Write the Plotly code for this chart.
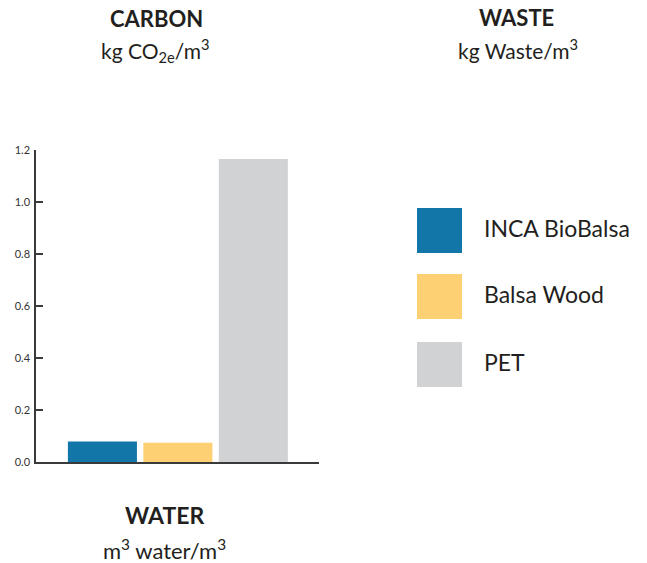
import plotly.graph_objects as go

# ---- data ----
materials = ["INCA BioBalsa", "Balsa Wood", "PET"]
carbon_values = [0.079, 0.074, 1.165]
colors = ["#1276A8", "#FDD073", "#D1D2D4"]
y_ticks = [0.0, 0.2, 0.4, 0.6, 0.8, 1.0, 1.2]
y_ticklabels = ["0.0", "0.2", "0.4", "0.6", "0.8", "1.0", "1.2"]

W, H = 647, 563
L, R, T, B = 36, 319, 150, 462  # plot area in pixels

def px(x):
    return (x - L) / (R - L)

def py(y):
    return (B - y) / (B - T)

FONT = "Lato, 'Open Sans', sans-serif"
TXT = "#231F20"

fig = go.Figure()
fig.add_trace(go.Bar(
    x=list(range(len(materials))),
    y=carbon_values,
    marker=dict(color=colors, line=dict(width=0)),
    width=0.915,
    showlegend=False,
    hoverinfo="skip",
))

fig.update_layout(
    width=W, height=H,
    margin=dict(l=L, r=W - R, t=T, b=H - B, pad=0),
    plot_bgcolor="white", paper_bgcolor="white",
    font=dict(family=FONT, color=TXT),
    xaxis=dict(
        range=[-0.88, 2.87],
        showgrid=False, zeroline=False,
        showline=True, linecolor="#3A3A3A", linewidth=1.5,
        tickmode="array", tickvals=[2.87], ticktext=[""],
        ticks="inside", ticklen=7, tickwidth=1.5, tickcolor="#3A3A3A",
        fixedrange=True,
    ),
    yaxis=dict(
        range=[0, 1.2],
        showgrid=False, zeroline=False,
        showline=True, linecolor="#3A3A3A", linewidth=1.5,
        tickmode="array", tickvals=y_ticks, ticktext=y_ticklabels,
        ticks="inside", ticklen=7, tickwidth=1.5, tickcolor="#3A3A3A",
        tickfont=dict(size=11, color="#333333", family=FONT),
        ticklabelstandoff=2,
        fixedrange=True,
    ),
)

annotations = [
    (156, 19, "<b>CARBON</b>", 22),
    (155, 50, "kg CO<sub>2e</sub>/m<sup>3</sup>", 21),
    (516, 18, "<b>WASTE</b>", 22),
    (518, 49, "kg Waste/m<sup>3</sup>", 21),
    (164, 515, "<b>WATER</b>", 23),
    (164, 549, "m<sup>3</sup> water/m<sup>3</sup>", 22),
]
for x, y, text, size in annotations:
    fig.add_annotation(x=px(x), y=py(y), xref="paper", yref="paper",
                       text=text, showarrow=False,
                       xanchor="center", yanchor="middle",
                       font=dict(size=size, color=TXT, family=FONT))

# custom legend (large swatches)
legend_top = [208, 274, 342]
for name, col, top in zip(materials, colors, legend_top):
    fig.add_shape(type="rect", xref="paper", yref="paper",
                  x0=px(417), x1=px(462), y0=py(top + 45), y1=py(top),
                  fillcolor=col, line=dict(width=0))
    fig.add_annotation(x=px(482), y=py(top + 19.5), xref="paper", yref="paper",
                       text=name, showarrow=False,
                       xanchor="left", yanchor="middle",
                       font=dict(size=23, color=TXT, family=FONT))

fig.write_html("out.html")
